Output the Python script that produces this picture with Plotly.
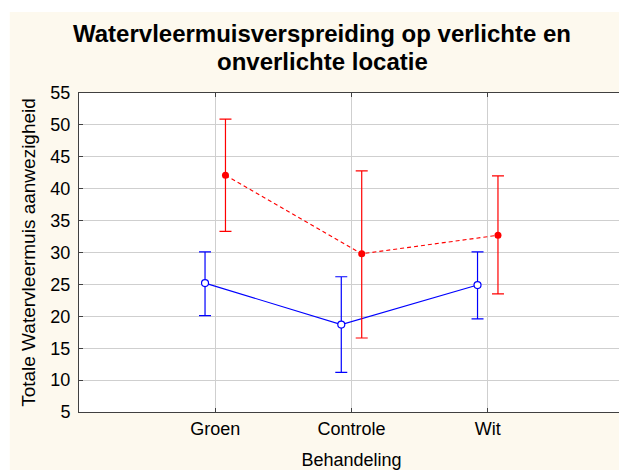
import plotly.graph_objects as go

categories = ["Groen", "Controle", "Wit"]

# verlicht (rood, gestippeld)
red_mean = [42.1, 29.8, 32.7]
red_upper = [50.9, 42.8, 42.0]
red_lower = [33.3, 16.6, 23.5]

# onverlicht (blauw)
blue_mean = [25.2, 18.7, 24.9]
blue_upper = [30.1, 26.2, 30.1]
blue_lower = [20.1, 11.2, 19.6]

y_ticks = list(range(5, 60, 5))

title_lines = ["Watervleermuisverspreiding op verlichte en", "onverlichte locatie"]

FONT = "Liberation Sans, Arial, sans-serif"
CREAM = "#FDF9EE"

fig = go.Figure()

fig.add_trace(go.Scatter(
    x=categories, y=blue_mean,
    mode="lines+markers", name="onverlicht",
    line=dict(color="#0000FF", width=1.1),
    marker=dict(symbol="circle", size=7, color="white", line=dict(color="#0000FF", width=1.2)),
    error_y=dict(
        type="data", symmetric=False,
        array=[u - m for u, m in zip(blue_upper, blue_mean)],
        arrayminus=[m - l for m, l in zip(blue_mean, blue_lower)],
        color="#0000FF", thickness=1.2, width=6,
    ),
))

fig.add_trace(go.Scatter(
    x=categories, y=red_mean,
    mode="lines+markers", name="verlicht",
    line=dict(color="#FF0000", width=1.1, dash="4px,3px"),
    marker=dict(symbol="circle", size=7, color="#FF0000"),
    error_y=dict(
        type="data", symmetric=False,
        array=[u - m for u, m in zip(red_upper, red_mean)],
        arrayminus=[m - l for m, l in zip(red_mean, red_lower)],
        color="#FF0000", thickness=1.2, width=6,
    ),
))

# cream frame, white plot area on top
fig.add_shape(type="rect", xref="paper", yref="paper", x0=-0.127, x1=1.2, y0=-0.4, y1=1.254,
              fillcolor=CREAM, line_width=0, layer="below")
fig.add_shape(type="rect", xref="paper", yref="paper", x0=0, x1=1, y0=0, y1=1,
              fillcolor="white", line_width=0, layer="below")

# two-line title, tighter line spacing than plotly's <br>
for line, ypos in zip(title_lines, [1.188, 1.099]):
    fig.add_annotation(
        text=f"<b>{line}</b>", xref="paper", yref="paper", x=0.446, y=ypos,
        xanchor="center", yanchor="middle", showarrow=False,
        font=dict(family=FONT, size=24, color="black"),
    )

axis_common = dict(
    showline=True, linecolor="#404040", linewidth=1, mirror="ticks",
    ticks="inside", ticklen=4, tickcolor="#404040",
    showgrid=True, gridcolor="#CFCFCF", gridwidth=1,
    tickfont=dict(family=FONT, size=18, color="black"),
    zeroline=False, automargin=False,
)

fig.update_layout(
    width=627, height=470,
    xaxis=dict(
        axis_common, type="category", range=[-1, 3],
        title=dict(text="Behandeling", font=dict(family=FONT, size=18, color="black"), standoff=15),
    ),
    yaxis=dict(
        axis_common, range=[5, 55], tickvals=y_ticks, ticklabelstandoff=4,
        title=dict(text="Totale Watervleermuis aanwezigheid", font=dict(family=FONT, size=19, color="black"), standoff=9),
    ),
    scattermode="group", scattergap=0.7,
    showlegend=False,
    paper_bgcolor="white", plot_bgcolor="white",
    margin=dict(l=71, r=11, t=85, b=66),
)

fig.write_html("out.html")
